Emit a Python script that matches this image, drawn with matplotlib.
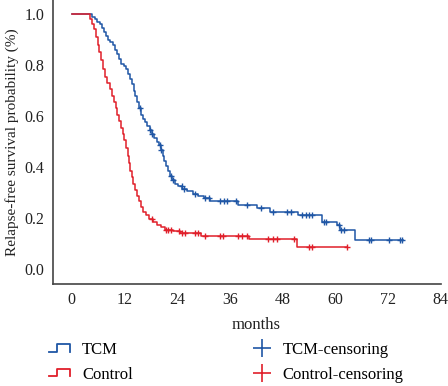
import numpy as np
import matplotlib.pyplot as plt
from matplotlib.lines import Line2D
from matplotlib.legend_handler import HandlerBase

plt.rcParams['font.family'] = ['Liberation Serif', 'DejaVu Serif']

blue = '#1f56a5'
red = '#e01f2a'

# Kaplan-Meier curves: (month, survival)
tcm_t = [0, 4.0, 4.6, 5.2, 5.8, 6.4, 6.9, 7.4, 7.9, 8.3, 8.8, 9.3, 9.8, 10.3, 10.8,
         11.2, 11.8, 12.4, 12.9, 13.3, 13.7, 14.1, 14.5, 14.9, 15.3, 15.7, 16.2, 16.7,
         17.2, 17.7, 18.2, 18.8, 19.4, 19.9, 20.3, 20.7, 21.0, 21.4, 21.8, 22.3, 22.8,
         23.4, 24.2, 25.2, 26.3, 27.5, 28.8, 30.0, 31.5, 37.9, 42.1, 45.1, 51.5, 56.9,
         60.3, 61.1, 64.5, 75.5]
tcm_s = [1.0, 1.0, 0.99, 0.98, 0.97, 0.96, 0.945, 0.93, 0.915, 0.90, 0.89, 0.88, 0.86,
         0.845, 0.825, 0.805, 0.795, 0.785, 0.765, 0.745, 0.725, 0.70, 0.68, 0.655, 0.63,
         0.605, 0.59, 0.575, 0.56, 0.545, 0.53, 0.515, 0.50, 0.485, 0.465, 0.445, 0.425,
         0.405, 0.385, 0.365, 0.35, 0.335, 0.325, 0.315, 0.305, 0.295, 0.285, 0.277,
         0.265, 0.251, 0.238, 0.225, 0.212, 0.186, 0.173, 0.153, 0.114, 0.114]

ctl_t = [0, 3.7, 4.2, 4.7, 5.1, 5.5, 5.9, 6.3, 6.7, 7.1, 7.6, 8.1, 8.6, 9.1, 9.6, 10.0,
         10.4, 10.8, 11.2, 11.6, 12.0, 12.4, 12.7, 13.0, 13.3, 13.6, 14.0, 14.4, 14.8,
         15.2, 15.7, 16.3, 16.9, 17.6, 18.4, 19.3, 20.3, 21.3, 23.0, 24.6, 29.5, 40.3,
         51.2, 62.7]
ctl_s = [1.0, 1.0, 0.98, 0.96, 0.94, 0.91, 0.88, 0.85, 0.82, 0.785, 0.755, 0.73, 0.705,
         0.68, 0.655, 0.63, 0.605, 0.58, 0.555, 0.53, 0.505, 0.475, 0.445, 0.415, 0.385,
         0.36, 0.335, 0.31, 0.285, 0.265, 0.245, 0.225, 0.21, 0.195, 0.183, 0.172, 0.163,
         0.155, 0.148, 0.141, 0.130, 0.116, 0.086, 0.086]

tcm_cens = [15.5, 17.8, 18.2, 20.0, 20.4, 22.7, 23.1, 25.0, 25.6, 28.0, 30.3, 31.2, 33.7,
            34.6, 35.3, 37.4, 39.9, 43.0, 45.7, 49.0, 49.8, 52.4, 53.2, 54.0, 54.7, 57.4,
            57.8, 60.8, 61.2, 62.0, 67.7, 68.0, 72.2, 74.7, 75.2]
ctl_cens = [18.2, 21.5, 22.0, 22.5, 24.5, 25.0, 25.7, 28.0, 28.8, 30.3, 33.7, 34.5,
            37.9, 38.7, 39.8, 44.7, 45.7, 46.6, 50.6, 54.0, 54.7, 62.7]

xticks = [0, 12, 24, 36, 48, 60, 72, 84]
yticks = [0.0, 0.2, 0.4, 0.6, 0.8, 1.0]


def surv_at(t, times, surv):
    idx = np.searchsorted(times, t, side='right') - 1
    return np.asarray(surv)[idx]


class StepHandler(HandlerBase):
    def create_artists(self, legend, orig_handle, xdescent, ydescent, width, height,
                       fontsize, trans):
        x0 = -xdescent
        y0 = -ydescent
        xs = np.array([0, 0.35, 0.35, 0.85, 0.85]) * width + x0
        ys = np.array([0.2, 0.2, 0.85, 0.85, 0.2]) * height + y0
        ln = Line2D(xs, ys, color=orig_handle.get_color(), lw=1.3, transform=trans)
        return [ln]


fig = plt.figure(figsize=(4.48, 3.86), dpi=100)
ax = fig.add_axes([0.118, 0.264, 0.866, 0.736])

ax.step(tcm_t, tcm_s, where='post', color=blue, lw=1.1)
ax.step(ctl_t, ctl_s, where='post', color=red, lw=1.1)
ax.plot(tcm_cens, surv_at(tcm_cens, tcm_t, tcm_s), ls='none', marker='+', ms=5,
        mew=1.0, color=blue)
ax.plot(ctl_cens, surv_at(ctl_cens, ctl_t, ctl_s), ls='none', marker='+', ms=5,
        mew=1.0, color=red)

ax.set_xlim(-4.3, 84)
ax.set_ylim(-0.059, 1.055)
ax.set_xticks(xticks)
ax.set_yticks(yticks)
ax.set_yticklabels(['%.1f' % v for v in yticks])
ax.tick_params(length=0, labelsize=11.5, colors='#222222', pad=6)

for s in ['top', 'right']:
    ax.spines[s].set_visible(False)
for s in ['left', 'bottom']:
    ax.spines[s].set_color('#444444')
    ax.spines[s].set_linewidth(1.2)

ax.set_xlabel('months', fontsize=12, x=0.523, labelpad=6, color='#222222')
ax.set_ylabel('Relapse-free survival probability (%)', fontsize=11, color='#222222')
ax.yaxis.set_label_coords(-0.088, 0.5)

h_tcm = Line2D([], [], color=blue)
h_ctl = Line2D([], [], color=red)
h_tcm_c = Line2D([], [], color=blue, marker='+', ls='none', ms=13, mew=1.2)
h_ctl_c = Line2D([], [], color=red, marker='+', ls='none', ms=13, mew=1.2)
fig.legend([h_tcm, h_ctl, h_tcm_c, h_ctl_c],
           ['TCM', 'Control', 'TCM-censoring', 'Control-censoring'],
           handler_map={h_tcm: StepHandler(), h_ctl: StepHandler()},
           ncol=2, loc='lower left', bbox_to_anchor=(0.075, -0.03), frameon=False,
           fontsize=12, handlelength=1.5, handletextpad=0.5, columnspacing=7.0,
           labelspacing=0.5)

fig.savefig('out.png', dpi=100)
